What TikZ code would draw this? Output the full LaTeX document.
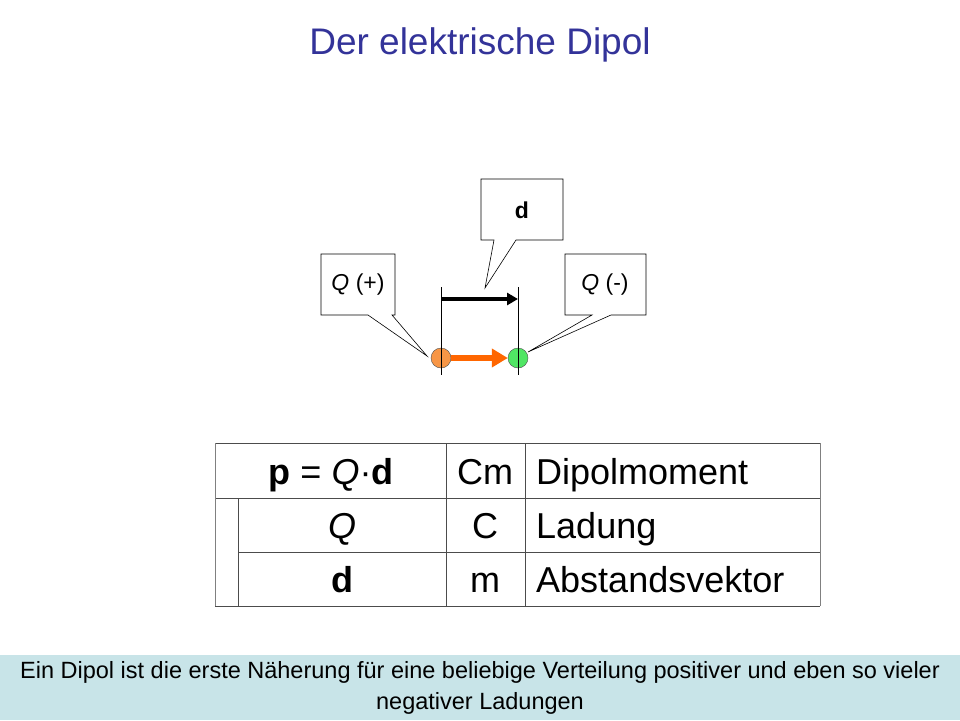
\documentclass[tikz,border=0pt]{standalone}
\usepackage{fontspec}
\setmainfont{Liberation Sans}
\usetikzlibrary{arrows.meta}
\definecolor{titleblue}{RGB}{51,51,153}
\definecolor{band}{RGB}{200,228,232}
\definecolor{orng}{RGB}{255,102,0}
\definecolor{orcirc}{RGB}{247,150,70}
\definecolor{grcirc}{RGB}{80,230,100}
\begin{document}
\begin{tikzpicture}[x=1pt,y=-1pt,
  callout/.style={draw=black,fill=white,line width=0.6pt},
  tline/.style={line width=0.8pt,black!70},
  cell/.style={font=\fontsize{36}{40}\selectfont,anchor=base,inner sep=0pt}]
\useasboundingbox (0,0) rectangle (960,720);
\node[text=titleblue,font=\fontsize{37}{42}\selectfont] (title) at (480,45) {Der elektrische Dipol};
% vertical lines
\coordinate (l1t) at (441,287); \coordinate (l1b) at (441,375);
\coordinate (l2t) at (518,287); \coordinate (l2b) at (518,375);
\coordinate (da) at (441,299); \coordinate (db) at (518,299);
\draw[line width=3.5pt,-{Triangle[length=11pt,width=12pt]}] (da) -- (db);
\node[circle,draw=black!70,fill=orcirc,minimum size=20pt,inner sep=0pt] (qp) at (441,358) {};
\node[circle,draw=black!70,fill=grcirc,minimum size=20pt,inner sep=0pt] (qm) at (518,358) {};
\draw[orng,line width=6pt,-{Triangle[length=16pt,width=18pt]}] (qp.east) -- (qm.west);
\draw[line width=0.7pt] (l1t) -- (l1b);
\draw[line width=0.7pt] (l2t) -- (l2b);
% callouts
\draw[callout] (321,254) -- (395,254) -- (395,315) -- (392,315) -- (427,356) -- (368,315) -- (321,315) -- cycle;
\node[font=\fontsize{23}{26}\selectfont] (cqp) at (358,285) {\itshape Q\/\upshape{} (+)};
\draw[callout] (481,179) -- (563,179) -- (563,240) -- (516,240) -- (485,288) -- (494,240) -- (481,240) -- cycle;
\node[font=\fontsize{23}{26}\selectfont\bfseries] (cd) at (522,210) {d};
\draw[callout] (565,254) -- (646,254) -- (646,315) -- (611,315) -- (528,352) -- (592,315) -- (565,315) -- cycle;
\node[font=\fontsize{23}{26}\selectfont] (cqm) at (605,285) {\itshape Q\/\upshape{} (-)};
% table
\draw[tline] (215,443) -- (820,443);
\draw[tline] (215,498) -- (820,498);
\draw[tline] (238,552) -- (820,552);
\draw[tline] (215,606) -- (820,606);
\draw[black!50,line width=0.5pt] (215,443) -- (215,606);
\draw[black!50,line width=0.5pt] (820,443) -- (820,606);
\draw[tline] (238,498) -- (238,606);
\draw[tline] (446,443) -- (446,606);
\draw[tline] (525,443) -- (525,606);
\node[cell] (c11) at (331,484) {\textbf{p} = \textit{Q}·\textbf{d}};
\node[cell] (c12) at (485,484) {Cm};
\node[cell,anchor=base west] (c13) at (536,484) {Dipolmoment};
\node[cell] (c21) at (342,538) {\textit{Q}};
\node[cell] (c22) at (485,538) {C};
\node[cell,anchor=base west] (c23) at (536,538) {Ladung};
\node[cell] (c31) at (342,592) {\textbf{d}};
\node[cell] (c32) at (485,592) {m};
\node[cell,anchor=base west] (c33) at (536,592) {Abstandsvektor};
% band
\fill[band] (0,655) rectangle (960,720);
\node[font=\fontsize{23.5}{31}\selectfont,align=center] (foot) at (480,688) {Ein Dipol ist die erste Näherung für eine beliebige Verteilung positiver und eben so vieler\\negativer Ladungen};
\end{tikzpicture}
\end{document}
